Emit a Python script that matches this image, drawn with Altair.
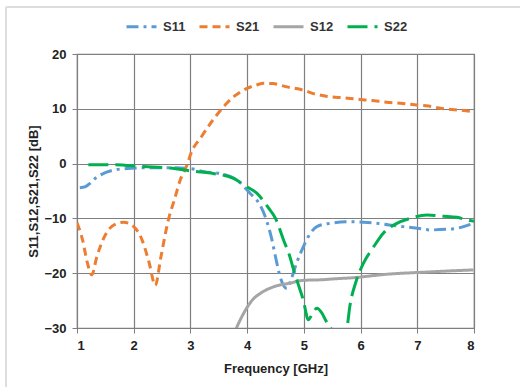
import altair as alt
import pandas as pd

series_names = ["S11", "S21", "S12", "S22"]
colors = ["#5B9BD5", "#ED7D31", "#A5A5A5", "#00B050"]
dashes = [[12, 5, 3, 5], [8, 5], [1, 0], [20, 7]]
widths = [3, 3, 3.8, 3]

s11_f = [1.05, 1.15, 1.23, 1.32, 1.41, 1.64, 1.88, 2.23, 2.64, 3.0, 3.23, 3.52, 3.82, 4.05, 4.23, 4.35, 4.43, 4.5, 4.58, 4.7, 4.78, 4.87, 4.99, 5.08, 5.23, 5.46, 5.81, 6.05, 6.29, 6.5, 6.75, 7.0, 7.23, 7.5, 7.7, 7.99]
s11_v = [-4.4, -4.2, -3.6, -2.7, -2.1, -1.2, -0.9, -0.75, -0.75, -0.9, -1.5, -1.8, -3.0, -5.4, -7.6, -10.6, -13.6, -17.0, -20.6, -22.8, -21.0, -18.2, -15.2, -13.3, -11.5, -10.9, -10.6, -10.7, -10.9, -11.2, -11.5, -11.8, -12.1, -12.0, -11.8, -10.9]

s21_f = [1.0, 1.1, 1.18, 1.26, 1.35, 1.5, 1.65, 1.82, 2.0, 2.15, 2.27, 2.38, 2.48, 2.61, 2.72, 2.82, 2.95, 3.0, 3.2, 3.4, 3.64, 3.8, 3.99, 4.15, 4.3, 4.45, 4.7, 4.99, 5.2, 5.46, 5.7, 5.99, 6.2, 6.46, 6.7, 6.99, 7.2, 7.46, 7.7, 7.99]
s21_v = [-10.8, -14.0, -18.0, -20.3, -17.0, -13.0, -11.2, -10.7, -11.5, -14.0, -18.0, -22.2, -17.0, -10.3, -6.5, -3.0, 0.0, 1.6, 5.0, 8.0, 11.0, 12.5, 13.7, 14.3, 14.65, 14.6, 14.0, 13.4, 12.7, 12.2, 12.0, 11.7, 11.5, 11.2, 11.0, 10.7, 10.5, 10.0, 9.8, 9.5]

s12_f = [3.75, 3.82, 3.99, 4.1, 4.23, 4.46, 4.76, 4.99, 5.3, 5.58, 5.9, 6.17, 6.45, 6.75, 7.05, 7.34, 7.65, 7.99]
s12_v = [-31.5, -29.8, -26.4, -24.8, -23.7, -22.5, -21.8, -21.3, -21.2, -21.0, -20.8, -20.5, -20.2, -20.0, -19.85, -19.7, -19.55, -19.4]

s22_f = [1.2, 1.64, 2.17, 2.64, 3.05, 3.4, 3.76, 3.99, 4.17, 4.37, 4.5, 4.64, 4.76, 4.82, 4.9, 4.99, 5.08, 5.14, 5.23, 5.32, 5.38, 5.46, 5.55, 5.68, 5.76, 5.81, 5.93, 6.05, 6.23, 6.4, 6.64, 6.87, 7.17, 7.46, 7.7, 7.93, 8.0]
s22_v = [-0.2, -0.2, -0.55, -0.8, -1.4, -1.8, -2.7, -4.2, -5.4, -8.0, -10.0, -13.9, -17.2, -19.4, -22.0, -24.9, -28.5, -27.6, -26.4, -27.3, -28.5, -29.8, -31.0, -31.0, -29.8, -26.1, -21.2, -18.2, -15.2, -12.7, -10.9, -10.0, -9.4, -9.6, -9.8, -10.4, -10.5]

x_ticks = [1, 2, 3, 4, 5, 6, 7, 8]
y_ticks = [-30, -20, -10, 0, 10, 20]

rows = []
for name, fs, vs in [("S11", s11_f, s11_v), ("S21", s21_f, s21_v), ("S12", s12_f, s12_v), ("S22", s22_f, s22_v)]:
    for i, (f, v) in enumerate(zip(fs, vs)):
        rows.append({"series": name, "f": f, "v": v, "o": i})
df = pd.DataFrame(rows)

FONT = "Liberation Sans"

leg = dict(title=None, orient="none", direction="horizontal",
           legendX=48, legendY=-44, symbolType="stroke",
           symbolSize=900, symbolStrokeWidth=3, columnPadding=7, labelOffset=5,
           labelFont=FONT, labelFontSize=13, labelFontWeight="bold",
           labelColor="#333333")

lines = alt.Chart(df).mark_line(clip=True, interpolate="monotone").encode(
    x=alt.X("f:Q", scale=alt.Scale(domain=[1, 8], nice=False),
            axis=alt.Axis(values=x_ticks, title="Frequency [GHz]", tickSize=5, labelPadding=6, titlePadding=10)),
    y=alt.Y("v:Q", scale=alt.Scale(domain=[-30, 20], nice=False),
            axis=alt.Axis(values=y_ticks, title="S11,S12,S21,S22 [dB]", tickSize=5, labelPadding=6,
                          titleX=-44, titleY=137, titleAngle=270, titleAlign="center",
                          titleBaseline="middle")),
    color=alt.Color("series:N", scale=alt.Scale(domain=series_names, range=colors),
                    legend=alt.Legend(**leg)),
    strokeDash=alt.StrokeDash("series:N", scale=alt.Scale(domain=series_names, range=dashes),
                              legend=alt.Legend(**leg)),
    strokeWidth=alt.StrokeWidth("series:N", scale=alt.Scale(domain=series_names, range=widths),
                                legend=None),
    order="o:Q",
    detail="series:N",
)

border_left = alt.Chart(df).mark_rule(color="#dddddd", strokeWidth=1.5, clip=False).encode(
    x=alt.value(-71), y=alt.value(-47), y2=alt.value(340))
border_top = alt.Chart(df).mark_rule(color="#dddddd", strokeWidth=1.5, clip=False).encode(
    x=alt.value(-71), x2=alt.value(450), y=alt.value(-47))

chart = alt.layer(border_left, border_top, lines).properties(
    width=397, height=274,
    background="white",
    autosize=alt.AutoSizeParams(type="none"),
    padding={"left": 77, "top": 54, "right": 46, "bottom": 59},
).configure_view(stroke="#7f7f7f", strokeWidth=1.2).configure_axis(
    gridColor="#7f7f7f", gridWidth=1.2, gridOpacity=1, domainColor="#7f7f7f", tickColor="#7f7f7f",
    labelFont=FONT, labelFontSize=13, labelFontWeight="bold", labelColor="#222222",
    titleFont=FONT, titleFontSize=13, titleFontWeight="bold", titleColor="#222222",
)

chart.save("out.html", embed_options={"renderer": "svg", "actions": False})
